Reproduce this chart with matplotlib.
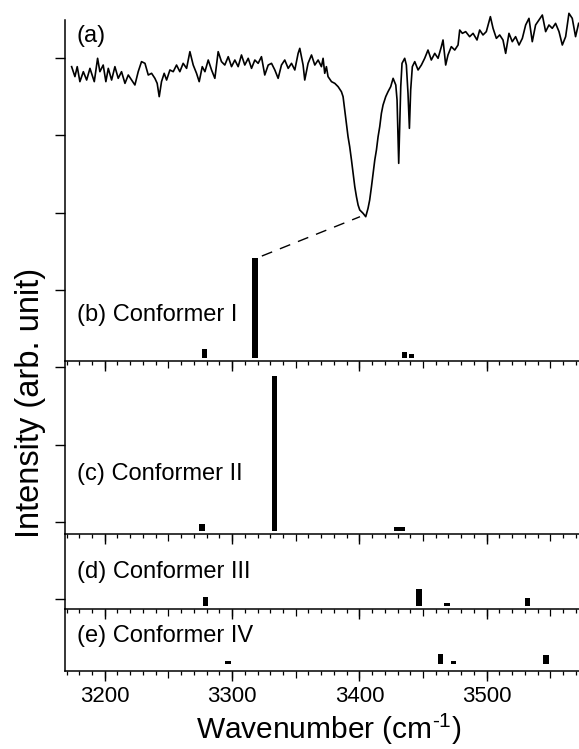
import numpy as np
import matplotlib
matplotlib.use('Agg')
import matplotlib.pyplot as plt
from matplotlib.ticker import MultipleLocator, NullLocator

plt.rcParams['font.family'] = ['Liberation Sans', 'DejaVu Sans']
plt.rcParams['mathtext.fontset'] = 'custom'
plt.rcParams['mathtext.rm'] = 'Liberation Sans'
plt.rcParams['mathtext.default'] = 'regular'

spec_wn = [3174.0, 3176.6, 3178.4, 3180.5, 3183.2, 3185.8, 3188.4, 3191.8, 3194.4, 3196.2,
           3198.8, 3200.9, 3202.8, 3205.4, 3208.0, 3210.6, 3213.2, 3215.9, 3218.5, 3221.1,
           3223.7, 3226.3, 3228.9, 3231.6, 3234.2, 3236.8, 3239.4, 3241.2, 3242.8, 3244.6,
           3246.7, 3248.6, 3251.2, 3253.8, 3256.4, 3259.0, 3261.6, 3264.3, 3266.9, 3269.5,
           3272.1, 3274.2, 3276.6, 3278.7, 3281.3, 3283.9, 3286.5, 3289.1, 3291.7, 3294.3,
           3297.0, 3299.6, 3302.2, 3304.8, 3307.4, 3310.0, 3312.7, 3315.3, 3317.9, 3320.5,
           3323.1, 3325.7, 3328.4, 3331.0, 3333.6, 3336.2, 3338.8, 3341.4, 3344.1, 3346.7,
           3349.3, 3351.9, 3353.2, 3355.8, 3357.1, 3359.7, 3362.4, 3365.0, 3367.6, 3370.2,
           3371.5, 3372.8, 3374.1, 3375.4, 3378.1, 3380.7, 3383.3, 3385.9, 3387.2, 3388.5,
           3389.8, 3391.1, 3392.4, 3393.8, 3395.1, 3396.4, 3397.7, 3399.0, 3400.3, 3402.9,
           3405.0, 3406.8, 3408.1, 3409.5, 3410.8, 3412.1, 3413.4, 3414.7, 3416.0, 3417.3,
           3418.6, 3420.7, 3422.5, 3424.6, 3426.5, 3428.6, 3429.6, 3430.4, 3430.9, 3431.7,
           3432.5, 3433.5, 3435.6, 3436.9, 3438.2, 3439.3, 3440.3, 3441.6, 3443.5, 3446.1,
           3448.7, 3451.3, 3453.9, 3456.5, 3459.2, 3461.8, 3464.4, 3465.7, 3467.8, 3469.6,
           3472.2, 3474.9, 3477.5, 3478.8, 3480.9, 3483.5, 3486.6, 3489.3, 3492.4, 3494.5,
           3497.1, 3499.7, 3502.9, 3505.0, 3507.6, 3510.2, 3512.8, 3514.9, 3517.5, 3520.1,
           3522.7, 3525.4, 3528.0, 3530.6, 3533.2, 3535.8, 3538.4, 3541.1, 3543.7, 3546.3,
           3548.9, 3551.5, 3554.1, 3556.8, 3559.4, 3562.0, 3564.6, 3567.2, 3569.8, 3572.2]
spec_int = [3.769, 3.640, 3.769, 3.575, 3.704, 3.596, 3.747, 3.575, 3.877, 3.704,
            3.790, 3.575, 3.747, 3.596, 3.769, 3.618, 3.704, 3.553, 3.661, 3.596,
            3.532, 3.704, 3.834, 3.812, 3.661, 3.683, 3.618, 3.553, 3.381, 3.575,
            3.683, 3.596, 3.726, 3.704, 3.790, 3.704, 3.812, 3.747, 3.963, 3.790,
            3.683, 3.575, 3.769, 3.704, 3.855, 3.726, 3.618, 3.963, 3.834, 3.790,
            3.898, 3.769, 3.855, 3.769, 3.920, 3.790, 3.877, 3.747, 3.855, 3.812,
            3.898, 3.661, 3.790, 3.812, 3.726, 3.618, 3.790, 3.855, 3.747, 3.812,
            3.726, 3.941, 4.006, 3.790, 3.596, 3.812, 3.920, 3.790, 3.855, 3.769,
            3.877, 3.683, 3.769, 3.640, 3.575, 3.553, 3.510, 3.445, 3.381, 3.208,
            3.036, 2.863, 2.734, 2.561, 2.389, 2.216, 2.087, 1.979, 1.915, 1.872,
            1.828, 1.936, 2.044, 2.216, 2.389, 2.561, 2.691, 2.863, 2.993, 3.165,
            3.273, 3.381, 3.445, 3.510, 3.618, 3.532, 3.338, 2.820, 2.518, 2.993,
            3.510, 3.812, 3.877, 3.790, 3.424, 2.971, 3.467, 3.769, 3.834, 3.726,
            3.790, 3.877, 3.984, 3.855, 3.941, 3.877, 4.028, 4.114, 3.790, 3.920,
            4.028, 3.984, 4.049, 4.243, 4.200, 4.222, 4.157, 4.200, 4.114, 4.243,
            4.179, 4.222, 4.416, 4.265, 4.135, 4.179, 4.114, 3.941, 4.200, 4.092,
            4.157, 4.049, 4.135, 4.308, 4.394, 4.092, 4.308, 4.373, 4.437, 4.222,
            4.308, 4.265, 4.329, 4.222, 4.049, 4.157, 4.459, 4.394, 4.157, 4.329]

# (b)-(e) calculated OH stretch lines
b_freq = [3278.3, 3317.9, 3435.5, 3441.0]
b_int = [0.113, 1.299, 0.072, 0.052]
c_freq = [3276.3, 3333.4, 3429.5, 3434.0]
c_int = [0.090, 2.005, 0.048, 0.048]
d_freq = [3279.0, 3446.6, 3468.8, 3532.0]
d_int = [0.113, 0.216, 0.026, 0.100]
e_freq = [3297.0, 3463.7, 3474.0, 3546.5]
e_int = [0.030, 0.120, 0.026, 0.107]

panel_labels = ['(b) Conformer I', '(c) Conformer II', '(d) Conformer III', '(e) Conformer IV']
bar_sets = [(b_freq, b_int), (c_freq, c_int), (d_freq, d_int), (e_freq, e_int)]

W, H = 579, 749
fig = plt.figure(figsize=(W / 100, H / 100), dpi=100)

U = 77.3        # pixels per y tick step
LEFT = 65
# (top, bottom, baseline) of each panel in pixels from the top
panels = [(5, 360.5, 358), (360.5, 533.7, 530.5), (533.7, 609, 605.5), (609, 670.5, 663.5)]
ytick_px = 58 + U * np.arange(8)
label_y = [0.112, 0.310, 0.408, 0.459]

axes = []
for k, (top, bot, base) in enumerate(panels):
    ax = fig.add_axes([LEFT / W, 1 - bot / H, 1 - LEFT / W, (bot - top) / H])
    ax.patch.set_visible(False)
    y0, y1 = (base - bot) / U, (base - top) / U
    ax.set_xlim(3168.8, 3572.5)
    ax.set_ylim(y0, y1)

    freq, inten = bar_sets[k]
    ax.bar(freq, inten, width=4.4, color='black', linewidth=0)

    for s in ['top', 'right']:
        ax.spines[s].set_visible(False)
    for s in ['left', 'bottom']:
        ax.spines[s].set_linewidth(1.1)

    yt = (base - ytick_px) / U
    ax.set_yticks(yt[(yt > y0) & (yt < y1)])
    ax.tick_params(axis='y', direction='out', length=7.2, width=1.0, labelleft=False)

    ax.xaxis.set_major_locator(MultipleLocator(50))
    ax.xaxis.set_minor_locator(MultipleLocator(10))
    ax.tick_params(axis='x', which='major', direction='out', length=5, width=0.9,
                   labelbottom=False)
    ax.tick_params(axis='x', which='minor', direction='out', length=2.9, width=0.9)

    sec = ax.secondary_xaxis('bottom')
    sec.set_xticks([3200, 3300, 3400, 3500])
    sec.xaxis.set_minor_locator(NullLocator())
    sec.spines['bottom'].set_visible(False)
    sec.tick_params(direction='out', length=7.2, width=1.0, labelsize=16, pad=4,
                    labelbottom=(k == len(panels) - 1))

    ax.text(0.023, label_y[k], panel_labels[k], transform=ax.transAxes,
            fontsize=17, va='baseline', ha='left')
    axes.append(ax)

top_ax = axes[0]
top_ax.spines['left'].set_bounds(top_ax.get_ylim()[0], (358 - 20) / U)
top_ax.plot(spec_wn, spec_int, color='black', lw=1.2)
top_ax.text(0.023, 0.897, '(a)', transform=top_ax.transAxes, fontsize=17,
            va='baseline', ha='left')

# dashed guide from conformer I main line to the band minimum
j = int(np.argmax(b_int))
i_min = int(np.argmin(spec_int))
top_ax.plot([b_freq[j] + 5.5, spec_wn[i_min] - 4.5], [b_int[j] + 0.02, spec_int[i_min]],
            color='black', lw=1.0, ls=(0, (8, 6)))

fig.text(329 / W, 1 - 739 / H, 'Wavenumber (cm$^{\u20101}$)', fontsize=21.5,
         ha='center', va='baseline')
fig.text(31 / W, 1 - 402.5 / H, 'Intensity (arb. unit)', fontsize=23.5,
         rotation=90, ha='center', va='center')

fig.savefig('out.png', dpi=100, facecolor='white')
